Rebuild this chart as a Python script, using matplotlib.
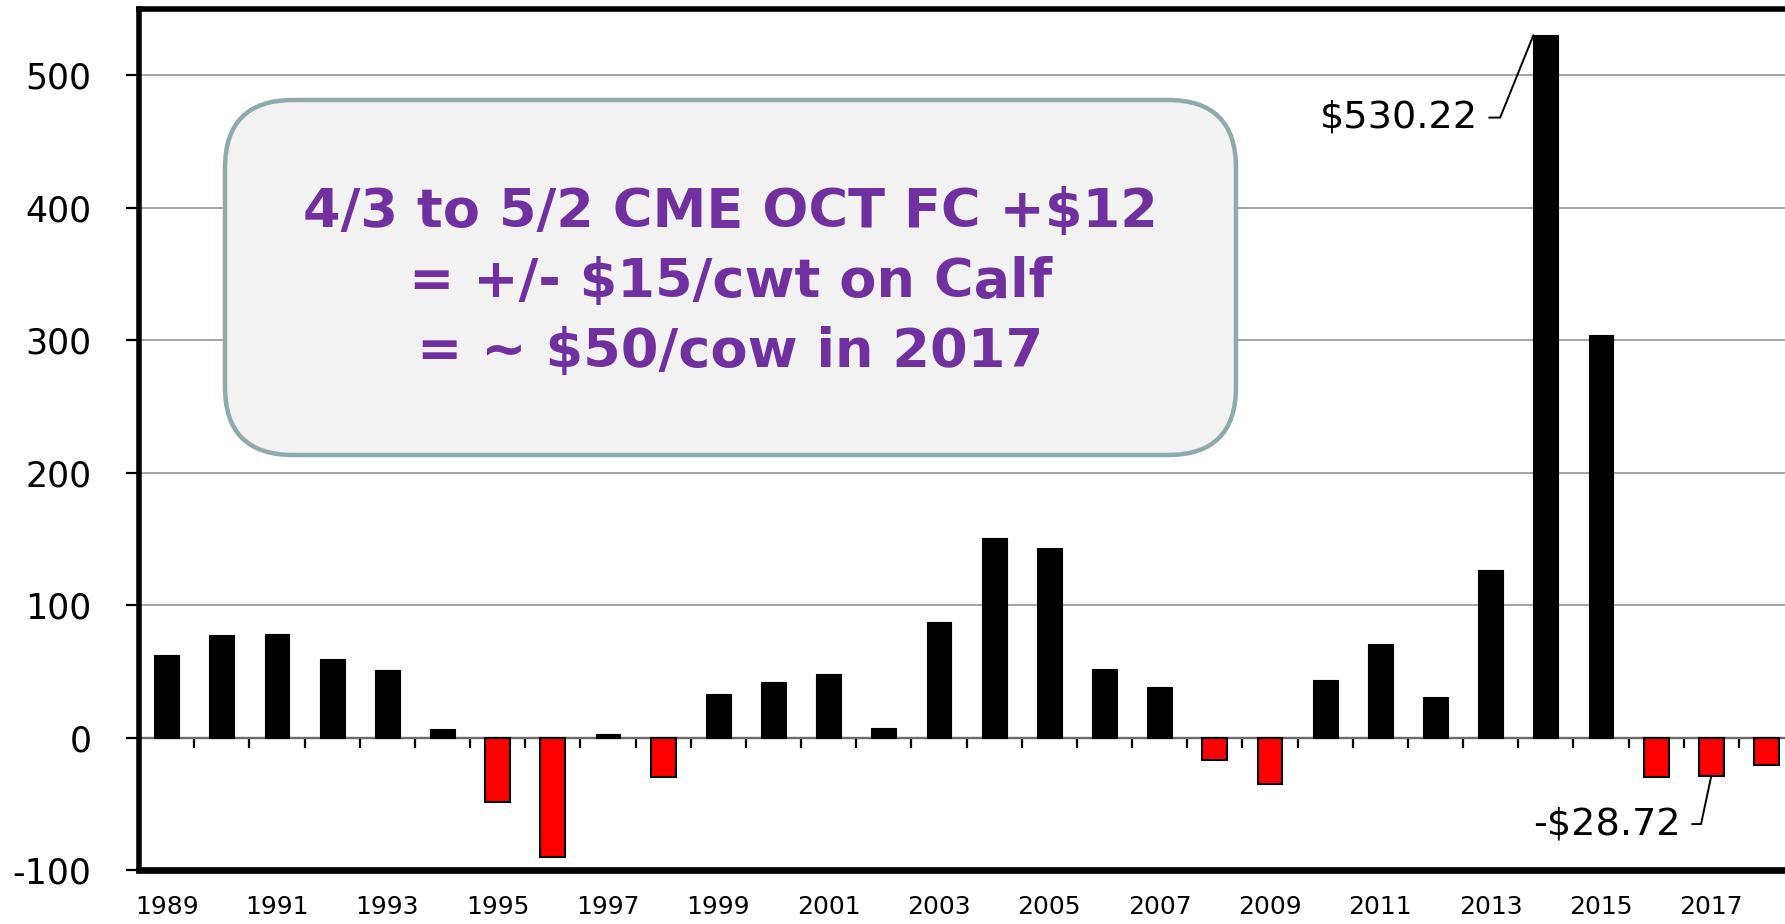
import matplotlib
matplotlib.use("Agg")
import matplotlib.pyplot as plt
from matplotlib.patches import FancyBboxPatch
import numpy as np

# ---------------- data ----------------
years = list(range(1989, 2019))
values = [62, 77.5, 78.5, 59.3, 51.3, 6.3, -48.5, -90, 2.5, -30,
          32.7, 42.1, 48.2, 7.1, 87, 151, 143, 52, 38.3, -17,
          -35, 43.7, 71, 30.5, 126.7, 530.22, 304, -30, -28.72, -21]
label_years = years[::2]
yticks = [-100, 0, 100, 200, 300, 400, 500]
box_lines = ["4/3 to 5/2 CME OCT FC +$12",
             "= +/- $15/cwt on Calf",
             "= ~ $50/cow in 2017"]
callout_high = (2014, 530.22, "$530.22")
callout_low = (2017, -28.72, "-$28.72")

# ---------------- style ----------------
plt.rcParams["font.family"] = ["DejaVu Sans"]
plt.rcParams["axes.unicode_minus"] = False

W, H = 17.85, 9.24
fig = plt.figure(figsize=(W, H), dpi=100)
ax = fig.add_axes([0.0779, 0.0584, 0.9272, 0.9319])

bar_w = 0.45
colors = ["#ff0000" if v < 0 else "black" for v in values]
lws = [1.5 if v < 0 else 0.8 for v in values]
ax.bar(years, values, width=bar_w, color=colors, edgecolor="black",
       linewidth=lws, zorder=3)

ax.set_xlim(years[0] - 0.5, years[-1] + 0.5)
ax.set_ylim(-100, 550)
ax.set_yticks(yticks)
ax.set_xticks(label_years)
ax.set_xticklabels([str(y) for y in label_years])
ax.tick_params(axis="x", length=0, pad=18, labelsize=18)
ax.tick_params(axis="y", length=9.4, width=1.6, pad=25, labelsize=25)
ax.yaxis.grid(True, color="#8c8c8c", linewidth=1.1)
ax.set_axisbelow(True)

ax.spines["right"].set_visible(False)
ax.spines["left"].set_linewidth(4)
ax.spines["top"].set_linewidth(4)
ax.spines["bottom"].set_linewidth(4.8)

# zero axis line with category-boundary tick marks
ymin, ymax = ax.get_ylim()
sec = ax.secondary_xaxis((0 - ymin) / (ymax - ymin))
sec.set_xticks(np.arange(years[0] - 0.5, years[-1] + 1.0, 1.0))
sec.tick_params(direction="out", length=7, width=1.6, labelbottom=False,
                labeltop=False, color="black")
for s in sec.spines.values():
    s.set_linewidth(1.6)
    s.set_color("black")

# ---------------- callout box ----------------
box = FancyBboxPatch((2.25, 4.69), 10.11, 3.55,
                     boxstyle="round,pad=0,rounding_size=0.68",
                     transform=fig.dpi_scale_trans,
                     facecolor="#f2f2f2", edgecolor="#8eaaad",
                     linewidth=3.2, zorder=5)
ax.add_patch(box)
ax.text(7.305, H - 2.82, "\n".join(box_lines), transform=fig.dpi_scale_trans,
        ha="center", va="center", multialignment="center",
        fontsize=39, fontweight="bold", color="#7030a0",
        linespacing=1.43, zorder=6, parse_math=False)

# ---------------- value callouts ----------------
x, y, lab = callout_high
ax.annotate(lab, xy=(x - bar_w / 2, y), xytext=(2012.77, 468),
            ha="right", va="center", fontsize=27.5, parse_math=False,
            arrowprops=dict(arrowstyle="-", color="black", lw=1.4,
                            shrinkA=6, shrinkB=0, relpos=(1, 0.5),
                            connectionstyle="angle,angleA=0,angleB=68,rad=0"),
            zorder=7)
x, y, lab = callout_low
ax.annotate(lab, xy=(x, y), xytext=(2016.45, -65.3),
            ha="right", va="center", fontsize=27.5, parse_math=False,
            arrowprops=dict(arrowstyle="-", color="black", lw=1.4,
                            shrinkA=6, shrinkB=0, relpos=(1, 0.5),
                            connectionstyle="angle,angleA=0,angleB=78,rad=0"),
            zorder=7)

fig.savefig("out.png", dpi=100)
